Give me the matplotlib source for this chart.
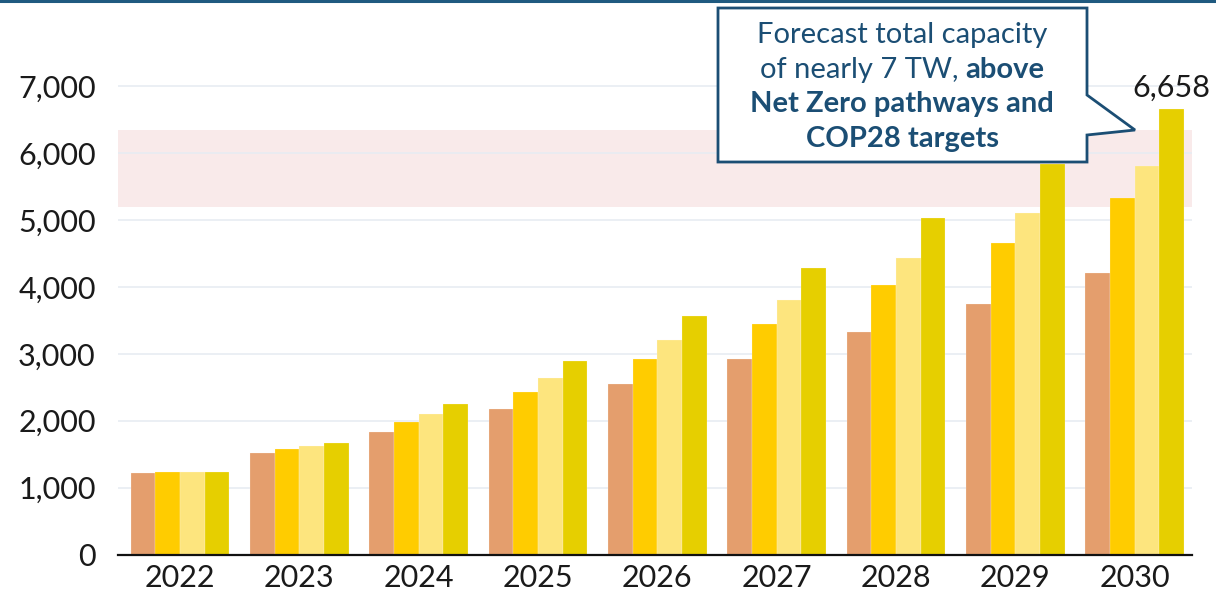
import matplotlib
matplotlib.use("Agg")
import matplotlib.pyplot as plt
from matplotlib.patches import Polygon
import numpy as np

plt.rcParams['font.family'] = ['Lato', 'DejaVu Sans']

years = ["2022", "2023", "2024", "2025", "2026", "2027", "2028", "2029", "2030"]
series_a = [1225, 1522, 1831, 2180, 2544, 2922, 3321, 3744, 4207]
series_b = [1228, 1572, 1985, 2429, 2922, 3450, 4028, 4651, 5330]
series_c = [1228, 1622, 2105, 2638, 3206, 3804, 4432, 5104, 5806]
series_d = [1228, 1671, 2254, 2893, 3565, 4278, 5030, 5837, 6658]
series_colors = ["#E49E6D", "#FFCC00", "#FDE57E", "#E6CF00"]
band_range = (5190, 6345)
yticks = [0, 1000, 2000, 3000, 4000, 5000, 6000, 7000]
label_value = "6,658"
callout_lines = ["Forecast total capacity", "of nearly 7 TW, ", "above",
                 "Net Zero pathways and", "COP28 targets"]

W, H = 1216, 599
fig = plt.figure(figsize=(W / 100, H / 100), dpi=100)
ax = fig.add_axes([118 / W, 1 - 554.5 / H, (1192 - 118) / W, (554.5 - 19.5) / H])

x = np.arange(len(years))
bw = 0.207
all_series = [series_a, series_b, series_c, series_d]
for i, (vals, col) in enumerate(zip(all_series, series_colors)):
    ax.bar(x + (i - 1.5) * bw, vals, width=bw, color=col, edgecolor="#FFF8F0",
           linewidth=0.15, zorder=2)

ax.axhspan(band_range[0], band_range[1], color="#F9EAEA", zorder=0, lw=0)
ax.set_xlim(-0.52, 8.48)
ax.set_ylim(0, 8000)
ax.set_yticks(yticks)
ax.set_yticklabels([f"{v:,}" for v in yticks])
ax.set_xticks(x)
ax.set_xticklabels(years)
ax.yaxis.grid(True, color="#E8ECF2", lw=1.2, zorder=0.5)
ax.set_axisbelow(True)
for s in ["top", "right", "left"]:
    ax.spines[s].set_visible(False)
ax.spines["bottom"].set_color("#111111")
ax.spines["bottom"].set_linewidth(1.6)
ax.spines["bottom"].set_zorder(3)
ax.tick_params(axis="both", length=0, labelsize=22, colors="#1a1a1a")
ax.tick_params(axis="x", pad=7)
ax.tick_params(axis="y", pad=16)

ax.text(x[-1] + 1.5 * bw, series_d[-1] + 110, label_value, ha="center", va="bottom",
        fontsize=22, color="#1a1a1a")

# top rule
fig.add_artist(plt.Line2D([0, 1], [1 - 1 / H, 1 - 1 / H], transform=fig.transFigure,
                          color="#1F5A80", lw=2.2))

# callout box
def fp(px, py):
    return (px / W, 1 - py / H)

navy = "#1B4E74"
poly = Polygon([fp(718, 8), fp(1087, 8), fp(1087, 95), fp(1135, 130), fp(1087, 135),
                fp(1087, 162), fp(718, 162)], closed=True, transform=fig.transFigure,
               facecolor="white", edgecolor=navy, lw=2.0, zorder=10)
fig.add_artist(poly)
cx = 902 / W
fs = 21
fig.text(cx, 1 - 35 / H, callout_lines[0], ha="center", va="center", fontsize=fs,
         color=navy, zorder=11)
t_left = fig.text(cx, 1 - 70 / H, callout_lines[1], ha="right", va="center", fontsize=fs,
                  color=navy, zorder=11)
t_right = fig.text(cx, 1 - 70 / H, callout_lines[2], ha="left", va="center", fontsize=fs,
                   color=navy, fontweight="bold", zorder=11)
fig.text(cx, 1 - 104 / H, callout_lines[3], ha="center", va="center", fontsize=fs,
         color=navy, fontweight="bold", zorder=11)
fig.text(cx, 1 - 139 / H, callout_lines[4], ha="center", va="center", fontsize=fs,
         color=navy, fontweight="bold", zorder=11)

fig.canvas.draw()
r = fig.canvas.get_renderer()
wl = t_left.get_window_extent(r).width
wr = t_right.get_window_extent(r).width
split = 902 - (wl + wr) / 2 + wl
t_left.set_x(split / W)
t_right.set_x(split / W)

fig.savefig("out.png", dpi=100)
